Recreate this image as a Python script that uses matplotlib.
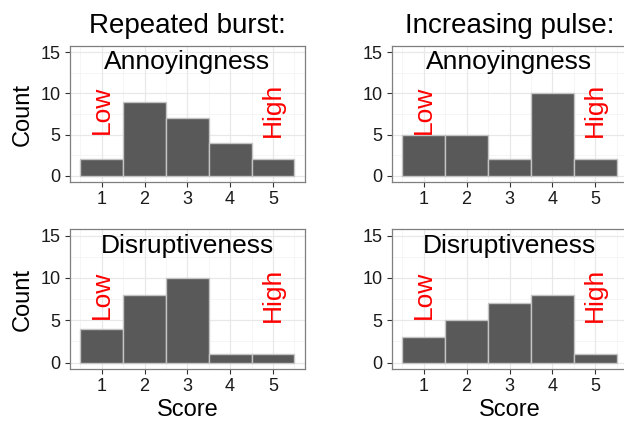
import matplotlib
matplotlib.use("Agg")
import matplotlib.pyplot as plt
import numpy as np

plt.rcParams['font.family'] = ['Liberation Sans', 'DejaVu Sans']

scores = [1, 2, 3, 4, 5]
conditions = ["Repeated burst:", "Increasing pulse:"]
measures = ["Annoyingness", "Disruptiveness"]
burst_annoy = [2, 9, 7, 4, 2]
burst_disrupt = [4, 8, 10, 1, 1]
pulse_annoy = [5, 5, 2, 10, 2]
pulse_disrupt = [3, 5, 7, 8, 1]
y_ticks = [0, 5, 10, 15]

counts = {
    (0, 0): burst_annoy,
    (1, 0): burst_disrupt,
    (0, 1): pulse_annoy,
    (1, 1): pulse_disrupt,
}

W, H = 624, 421
fig = plt.figure(figsize=(W / 100, H / 100), dpi=100)

# panel boxes in pixels: (left, right) per column, (top, bottom) per row
col_x = [(69.6, 305.0), (391.5, 627.5)]
row_y = [(46.0, 182.0), (229.3, 369.0)]

border = '#7f7f7f'
for r in range(2):
    for c in range(2):
        x0, x1 = col_x[c]
        y0, y1 = row_y[r]
        ax = fig.add_axes([x0 / W, 1 - y1 / H, (x1 - x0) / W, (y1 - y0) / H])
        ax.set_xlim(0.25, 5.75)
        ax.set_ylim(-0.75, 15.75)

        # ggplot-like grid
        for v in [0.5, 1.5, 2.5, 3.5, 4.5, 5.5]:
            ax.axvline(v, color='#f4f4f4', lw=0.6, zorder=0)
        for v in [2.5, 7.5, 12.5]:
            ax.axhline(v, color='#f4f4f4', lw=0.6, zorder=0)
        for v in scores:
            ax.axvline(v, color='#e8e8e8', lw=0.9, zorder=0)
        for v in y_ticks:
            ax.axhline(v, color='#e8e8e8', lw=0.9, zorder=0)

        ax.bar(scores, counts[(r, c)], width=1.0, color='#595959',
               edgecolor='#c4c4c4', linewidth=1.0, zorder=2)

        ax.text(3, 12.9, measures[r], ha='center', va='baseline',
                fontsize=19, color='black', zorder=3)
        ax.text(1, 8, "Low", rotation=90, ha='center', va='center',
                fontsize=19, color='red', zorder=3)
        ax.text(5, 8, "High", rotation=90, ha='center', va='center',
                fontsize=19, color='red', zorder=3)

        ax.set_xticks(scores)
        ax.set_yticks(y_ticks)
        ax.tick_params(axis='both', length=3.6, width=0.8, color='#333333',
                       labelsize=13, labelcolor='#1a1a1a', pad=3)
        for s in ax.spines.values():
            s.set_color(border)
            s.set_linewidth(0.9)

        if c == 0:
            ax.set_ylabel("Count", fontsize=17, labelpad=4.5)
        if r == 1:
            ax.set_xlabel("Score", fontsize=17, labelpad=2.5)

# column titles
for c in range(2):
    x0, x1 = col_x[c]
    fig.text((x0 + x1) / 2 / W, 1 - 33 / H, conditions[c], ha='center',
             va='baseline', fontsize=20)

fig.savefig("out.png", dpi=100)
